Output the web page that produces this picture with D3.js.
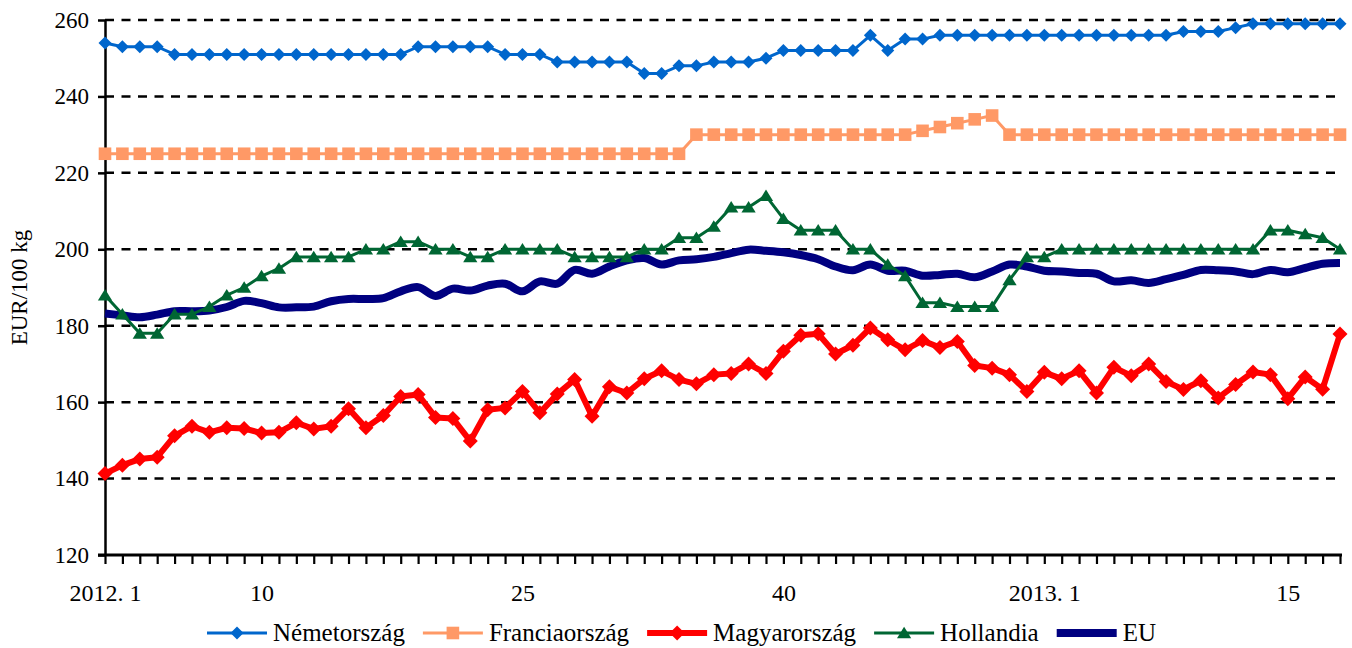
<!DOCTYPE html>
<html><head><meta charset="utf-8">
<script src="https://cdn.jsdelivr.net/npm/d3@7"></script>
<style>
body{margin:0;background:#fff}
svg{display:block}
text{font-family:"Liberation Serif","DejaVu Serif",serif;fill:#000}
</style>
</head><body>
<svg id="c" width="1352" height="648"></svg>
<script>
// ---- data (weekly prices, EUR/100 kg) ----
const germany = [254,253,253,253,251,251,251,251,251,251,251,251,251,251,251,251,251,251,253,253,253,253,253,251,251,251,
  249,249,249,249,249,246,246,248,248,249,249,249,250,252,252,252,252,252,256,252,255,255,256,256,256,
  256,256,256,256,256,256,256,256,256,256,256,257,257,257,258,259,259,259,259,259,259];
const france = [225,225,225,225,225,225,225,225,225,225,225,225,225,225,225,225,225,225,225,225,225,225,225,225,225,225,
  225,225,225,225,225,225,225,225,230,230,230,230,230,230,230,230,230,230,230,230,230,231,232,233,234,
  235,230,230,230,230,230,230,230,230,230,230,230,230,230,230,230,230,230,230,230,230];
const hungary = [141.3,143.5,145.1,145.6,151.2,153.7,152.1,153.3,153.1,151.9,152.1,154.6,153,153.7,158.3,153.3,156.5,161.5,162,156,155.7,149.8,158,158.5,162.8,157.2,
  162.1,165.9,156.3,164,162.4,166.1,168.2,165.9,164.8,167.2,167.5,170,167.5,173.3,177.5,177.9,172.6,174.9,179.4,176.3,173.7,176.1,174.3,175.9,169.6,
  168.9,167.2,162.8,167.8,166.1,168.2,162.4,169.1,166.9,170,165.4,163.3,165.6,161.1,164.6,167.9,167.2,160.9,166.6,163.4,177.8];
const holland = [188,183,178,178,183,183,185,188,190,193,195,198,198,198,198,200,200,202,202,200,200,198,198,200,200,200,
  200,198,198,198,198,200,200,203,203,206,211,211,214,208,205,205,205,200,200,196,193,186,186,185,185,
  185,192,198,198,200,200,200,200,200,200,200,200,200,200,200,200,205,205,204,203,200];
const eu = [183.2,182.7,182.2,182.9,183.8,183.8,184,184.9,186.5,185.9,184.8,184.8,185,186.4,187,187,187.2,189,190.1,187.8,189.7,189.2,190.5,191,189,191.6,
  191,194.6,193.6,195.5,197.1,197.7,196,197.1,197.4,198,199,199.9,199.6,199.2,198.5,197.4,195.5,194.5,196,194.4,194.4,193.1,193.3,193.6,192.7,
  194.2,196,195.5,194.4,194.2,193.8,193.6,191.6,191.9,191.2,192.2,193.3,194.6,194.5,194.2,193.5,194.6,194,195.1,196.2,196.4];
const seriesNames = ["Németország","Franciaország","Magyarország","Hollandia","EU"];
const tickLabels = ["2012. 1","10","25","40","2013. 1","15"];
const tickIndex  = [0,9,24,39,54,68];
const yTicks = [120,140,160,180,200,220,240,260];
const yTitle = "EUR/100 kg";

// ---- layout ----
const svg = d3.select("#c");
const L = 105, R = 1340, T = 20, B = 555;
const n = germany.length;
const x = d3.scaleLinear().domain([0, n-1]).range([L, R]);
const y = d3.scaleLinear().domain([120, 260]).range([B, T]);

// gridlines
svg.append("g").selectAll("line").data(yTicks.filter(v => v > 120)).join("line")
  .attr("x1", L).attr("x2", R).attr("y1", d => y(d)).attr("y2", d => y(d))
  .attr("stroke", "#000").attr("stroke-width", 2.5).attr("stroke-dasharray", "9,7.5");

// y axis
const labelMap = new Map(tickIndex.map((d, i) => [d, tickLabels[i]]));
const gy = svg.append("g").attr("transform", `translate(${L},0)`)
  .call(d3.axisLeft(y).tickValues(yTicks).tickSize(7).tickSizeOuter(0).tickPadding(9).tickFormat(d3.format("d")));
gy.attr("font-family", null);
gy.select(".domain").attr("stroke-width", 2.5);
gy.selectAll(".tick line").attr("stroke-width", 2.5);
gy.selectAll("text").attr("font-size", 23);

// x axis
const gx = svg.append("g").attr("transform", `translate(0,${B})`)
  .call(d3.axisBottom(x).tickValues(d3.range(n)).tickSize(9).tickSizeOuter(0).tickPadding(20)
    .tickFormat(i => labelMap.get(i) || ""));
gx.attr("font-family", null);
gx.select(".domain").attr("stroke-width", 3).attr("d", `M${L-7},0H${R+2}`);
gx.selectAll(".tick line").attr("stroke-width", 2.2);
gx.selectAll("text").attr("font-size", 24);

// y title
svg.append("text").attr("transform", `translate(27,${(T+B)/2}) rotate(-90)`)
  .attr("text-anchor", "middle").attr("font-size", 23).text(yTitle);

// markers
const sym = {
  diamond: r => `M0,${-r}L${r},0L0,${r}L${-r},0Z`,
  square: r => `M${-r},${-r}H${r}V${r}H${-r}Z`,
  triangle: r => `M0,${-r}L${r*1.15},${r*0.85}L${-r*1.15},${r*0.85}Z`
};
const series = [
  {name: seriesNames[0], data: germany, color: "#0066CC", w: 3, marker: "diamond", r: 6.5, curve: d3.curveLinear},
  {name: seriesNames[1], data: france, color: "#FF9966", w: 3, marker: "square", r: 6.3, curve: d3.curveLinear},
  {name: seriesNames[2], data: hungary, color: "#FF0000", w: 6, marker: "diamond", r: 7.5, curve: d3.curveLinear},
  {name: seriesNames[4], data: eu, color: "#000080", w: 8, marker: null, curve: d3.curveCatmullRom.alpha(0.5)},
  {name: seriesNames[3], data: holland, color: "#006633", w: 3, marker: "triangle", r: 6.2, curve: d3.curveLinear}
];

series.forEach(s => {
  const line = d3.line().x((d, i) => x(i)).y(d => y(d)).curve(s.curve);
  const g = svg.append("g");
  g.append("path").attr("d", line(s.data)).attr("fill", "none")
    .attr("stroke", s.color).attr("stroke-width", s.w).attr("stroke-linejoin", "round");
  if (s.marker) {
    g.selectAll("path.m").data(s.data).join("path").attr("class", "m")
      .attr("transform", (d, i) => `translate(${x(i)},${y(d)})`)
      .attr("d", sym[s.marker](s.r)).attr("fill", s.color);
  }
});

// legend
const legendOrder = [0, 1, 2, 4, 3].map(i => series[i]);
const lg = svg.append("g");
let sx = 207;
const ly = 633;
legendOrder.forEach(s => {
  const g = lg.append("g");
  g.append("line").attr("x1", sx).attr("x2", sx + 60).attr("y1", ly).attr("y2", ly)
    .attr("stroke", s.color).attr("stroke-width", s.w);
  if (s.marker) g.append("path").attr("transform", `translate(${sx+30},${ly})`)
    .attr("d", sym[s.marker](s.r)).attr("fill", s.color);
  const t = g.append("text").attr("x", sx + 66).attr("y", ly + 8).attr("font-size", 25).text(s.name);
  sx = sx + 66 + t.node().getComputedTextLength() + 18;
});
</script>
</body></html>
